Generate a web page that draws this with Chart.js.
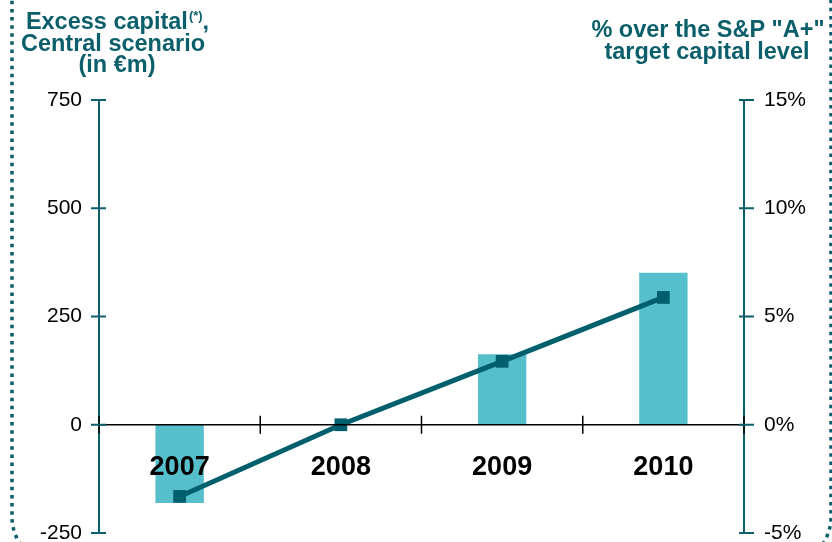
<!DOCTYPE html>
<html>
<head>
<meta charset="utf-8">
<script src="https://cdn.jsdelivr.net/npm/chart.js@4.4.1/dist/chart.umd.min.js"></script>
<style>
  html, body { margin: 0; padding: 0; background: #fff; overflow: hidden; }
  #wrap { width: 832px; height: 542px; overflow: hidden; }
</style>
</head>
<body>
<div id="wrap"><canvas id="capital" width="832" height="542"></canvas></div>
<script>
const years = ['2007', '2008', '2009', '2010'];
const excessCapital = [-181, 0, 163, 351];      // €m, left axis
const overTarget = [-3.31, 0, 2.93, 5.88];     // %, right axis
const leftTicks = [-250, 0, 250, 500, 750];
const rightTicks = [-5, 0, 5, 10, 15];

const teal = '#0b5f6b';
const lineTeal = '#005f6d';
const barTeal = '#55bfcc';
const font = '"Liberation Sans", Arial, sans-serif';

// dotted rounded frame, mostly outside the canvas
const frame = {
    id: 'frame',
    beforeDraw(chart) {
        const ctx = chart.ctx;
        ctx.save();
        ctx.strokeStyle = teal;
        ctx.lineWidth = 3.5;
        ctx.setLineDash([3.5, 4.6]);
        ctx.beginPath();
        ctx.roundRect(12, -60, 819, 625, 48);
        ctx.stroke();
        ctx.restore();
    }
};

const titles = {
    id: 'titles',
    afterDraw(chart) {
        const ctx = chart.ctx;
        ctx.save();
        ctx.fillStyle = teal;
        ctx.textBaseline = 'alphabetic';
        const big = 'bold 23.5px ' + font;
        const sup = 'bold 13px ' + font;
        // left title, first line with superscript
        ctx.font = big;
        const a = 'Excess capital', c = ',';
        const wa = ctx.measureText(a).width, wc = ctx.measureText(c).width;
        ctx.font = sup;
        const ws = ctx.measureText('(*)').width;
        let x = 117 - (wa + ws + wc) / 2;
        ctx.font = big;
        ctx.textAlign = 'left';
        ctx.fillText(a, x, 29);
        ctx.font = sup;
        ctx.fillText('(*)', x + wa + 1, 20);
        ctx.font = big;
        ctx.fillText(c, x + wa + ws + 1, 29);
        ctx.textAlign = 'center';
        ctx.fillText('Central scenario', 113, 51);
        ctx.fillText('(in €m)', 117, 72);
        // right title
        ctx.fillText('% over the S&P "A+"', 708, 37);
        ctx.fillText('target capital level', 707, 59);
        ctx.restore();
    }
};

// tick marks crossing the axis lines
const crossTicks = {
    id: 'crossTicks',
    afterDraw(chart) {
        const ctx = chart.ctx;
        const { x, y, y1 } = chart.scales;
        ctx.save();
        ctx.strokeStyle = '#000';
        ctx.lineWidth = 1.5;
        const y0 = y.getPixelForValue(0);
        for (let i = 0; i <= years.length; i++) {
            const px = x.getPixelForValue(i - 0.5);
            ctx.beginPath();
            ctx.moveTo(px, y0 - 9);
            ctx.lineTo(px, y0 + 9);
            ctx.stroke();
        }
        ctx.strokeStyle = teal;
        ctx.lineWidth = 2;
        leftTicks.forEach(v => {
            const py = y.getPixelForValue(v);
            ctx.beginPath();
            ctx.moveTo(y.right - 8, py);
            ctx.lineTo(y.right + 7, py);
            ctx.stroke();
        });
        rightTicks.forEach(v => {
            const py = y1.getPixelForValue(v);
            ctx.beginPath();
            ctx.moveTo(y1.left - 5, py);
            ctx.lineTo(y1.left + 10, py);
            ctx.stroke();
        });
        ctx.restore();
    }
};

const noPad = (s, w) => {
    s.width = w;
    s.paddingTop = 0;
    s.paddingBottom = 0;
};

new Chart(document.getElementById('capital'), {
    data: {
        labels: years,
        datasets: [
            {
                type: 'line',
                data: overTarget,
                yAxisID: 'y1',
                borderColor: lineTeal,
                backgroundColor: lineTeal,
                borderWidth: 5,
                pointStyle: 'rect',
                pointRadius: 9,
                pointBorderWidth: 0,
                order: 0
            },
            {
                type: 'bar',
                data: excessCapital,
                yAxisID: 'y',
                backgroundColor: barTeal,
                categoryPercentage: 1,
                barPercentage: 0.3,
                order: 1
            }
        ]
    },
    options: {
        responsive: false,
        devicePixelRatio: 1,
        animation: false,
        layout: { padding: { top: 100, bottom: 9, left: 0, right: 0 } },
        plugins: { legend: { display: false }, tooltip: { enabled: false } },
        scales: {
            x: {
                position: { y: 0 },
                offset: true,
                grid: { display: false },
                border: { color: '#000', width: 1.5, z: 1 },
                ticks: {
                    z: 1,
                    color: '#000',
                    padding: 19,
                    font: { family: font, size: 27, weight: 'bold' }
                },
                afterFit: s => {
                    s.height = 0;
                    s.paddingTop = 0;
                    s.paddingBottom = 0;
                }
            },
            y: {
                position: 'left',
                min: -250,
                max: 750,
                grid: { display: false },
                border: { color: teal, width: 2 },
                ticks: {
                    stepSize: 250,
                    color: '#000',
                    padding: 9,
                    font: { family: font, size: 21 }
                },
                afterFit: s => noPad(s, 99)
            },
            y1: {
                position: 'right',
                min: -5,
                max: 15,
                grid: { display: false },
                border: { color: teal, width: 2 },
                ticks: {
                    stepSize: 5,
                    color: '#000',
                    padding: 12,
                    font: { family: font, size: 21 },
                    callback: v => v + '%'
                },
                afterFit: s => noPad(s, 88)
            }
        }
    },
    plugins: [frame, titles, crossTicks]
});
</script>
</body>
</html>
